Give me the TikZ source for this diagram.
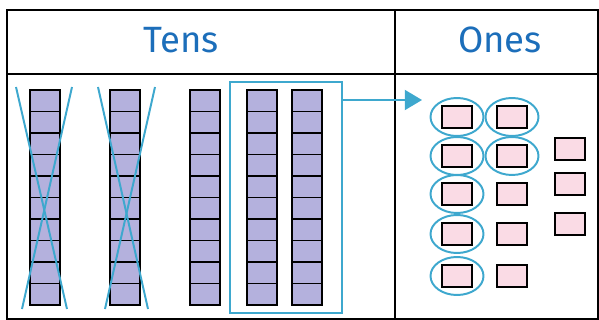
\documentclass[tikz,border=0pt]{standalone}
\usepackage{fontspec}
\setmainfont{Fira Sans}
\usetikzlibrary{arrows.meta}

\definecolor{rodfill}{RGB}{180,177,221}
\definecolor{unitfill}{RGB}{250,219,229}
\definecolor{ringblue}{RGB}{62,168,206}
\definecolor{headblue}{RGB}{28,110,186}

\tikzset{
  tcell/.style={draw=black, line width=1.4pt, fill=rodfill, minimum width=0.75cm, minimum height=0.5375cm, inner sep=0pt},
  ucell/.style={draw=black, line width=1.4pt, fill=unitfill, minimum width=0.75cm, minimum height=0.53cm, inner sep=0pt},
  ring/.style={draw=ringblue, line width=1.4pt},
  cross/.style={ringblue, line width=1.4pt},
  head/.style={text=headblue, font=\fontsize{26}{30}\selectfont}
}

\begin{document}
\begin{tikzpicture}[x=0.025cm, y=-0.025cm]
  \useasboundingbox (0,0) rectangle (599,320);

  % table
  \draw[line width=1.5pt] (7,10) rectangle (598,319);
  \draw[line width=1.5pt] (7,74) -- (598,74);
  \draw[line width=1.5pt] (395,10) -- (395,319);
  \node[head] (tens) at (181,40) {Tens};
  \node[head] (ones) at (500,40) {Ones};

  % rods of ten
  \foreach \c/\x in {1/45,2/125,3/205,4/262,5/307}
    \foreach \r in {0,...,9}
      \node[tcell] (t\c-\r) at (\x,{100.75+21.5*\r}) {};

  % crossed out
  \draw[cross] (16,87) -- (67,309);
  \draw[cross] (72,87) -- (22,309);
  \draw[cross] (98,87) -- (148,309);
  \draw[cross] (155,87) -- (105,309);

  % regrouped ten
  \node[draw=ringblue, line width=1.4pt, minimum width=2.8cm, minimum height=5.775cm, inner sep=0pt] (grp) at (286,197.5) {};
  \coordinate (tip) at (422,100);
  \draw[ringblue, line width=1.4pt, -{Triangle[length=4.3mm,width=5mm]}] (grp.east |- tip) -- (tip);

  % ones
  \foreach \r/\y in {1/117,2/156,3/194,4/234,5/276}
    \node[ucell] (a\r) at (457,\y) {};
  \foreach \r/\y in {1/117,2/156,3/194,4/234,5/276}
    \node[ucell] (b\r) at (512,\y) {};
  \foreach \r/\y in {1/149,2/184,3/224}
    \node[ucell] (c\r) at (570,\y) {};

  \foreach \n in {a1,a2,a3,a4,a5,b1,b2}
    \draw[ring] (\n) ellipse (26.5 and 19);

\end{tikzpicture}
\end{document}
